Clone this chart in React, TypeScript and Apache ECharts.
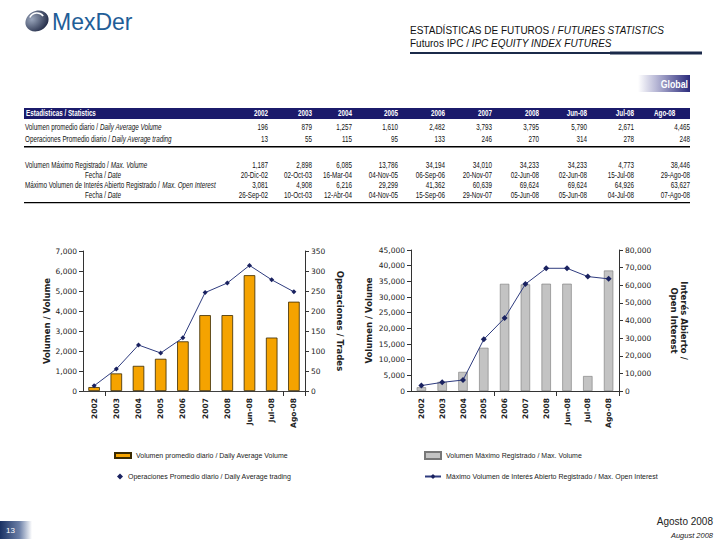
import React, { useEffect, useRef } from "react";
import * as echarts from "echarts";

const categories = ["2002", "2003", "2004", "2005", "2006", "2007", "2008", "Jun-08", "Jul-08", "Ago-08"];
const avgVolume = [196, 879, 1257, 1610, 2482, 3793, 3795, 5790, 2671, 4465];
const avgTrades = [13, 55, 115, 95, 133, 246, 270, 314, 278, 248];
const maxVolume = [1187, 2898, 6085, 13786, 34194, 34010, 34233, 34233, 4773, 38446];
const maxVolumeDate = ["20-Dic-02", "02-Oct-03", "16-Mar-04", "04-Nov-05", "06-Sep-06", "20-Nov-07", "02-Jun-08", "02-Jun-08", "15-Jul-08", "29-Ago-08"];
const maxOpenInterest = [3081, 4908, 6216, 29299, 41362, 60639, 69624, 69624, 64926, 63627];
const maxOpenInterestDate = ["26-Sep-02", "10-Oct-03", "12-Abr-04", "04-Nov-05", "15-Sep-06", "29-Nov-07", "05-Jun-08", "05-Jun-08", "04-Jul-08", "07-Ago-08"];

const S1 = "Volumen promedio diario / Daily Average Volume";
const S2 = "Operaciones Promedio diario / Daily Average trading";
const S3 = "Volumen Máximo Registrado / Max. Volume";
const S4 = "Máximo Volumen de Interés Abierto Registrado / Max. Open Interest";

const VERD = '"DejaVu Sans", Verdana, sans-serif';
const ARIAL = '"Liberation Sans", Arial, sans-serif';
const SX = 0.7;

const fmt = (v: number) => v.toLocaleString("en-US");

const colRight = [268, 312, 352, 398, 445, 492, 539, 587, 634, 690];

function buildTable(): any[] {
  const els: any[] = [];
  els.push({ type: "rect", shape: { x: 24, y: 108, width: 666, height: 11 }, style: { fill: "#1B1B6B" } });
  els.push({ type: "text", x: 26, y: 113.5, scaleX: SX, style: { text: "Estadísticas / Statistics", fill: "#fff", font: `bold 9px ${ARIAL}`, verticalAlign: "middle" } });
  categories.forEach((c, i) => {
    els.push({ type: "text", x: i === 9 ? 654 : colRight[i], y: 113.5, scaleX: SX, style: { text: c, fill: "#fff", font: `bold 9px ${ARIAL}`, textAlign: i === 9 ? "left" : "right", verticalAlign: "middle" } });
  });
  const rich = {
    a: { fontFamily: ARIAL, fontSize: 9, fill: "#111", fontStyle: "normal" },
    b: { fontFamily: ARIAL, fontSize: 9, fill: "#111", fontStyle: "italic" },
  };
  const rows: { a: string; b: string; y: number; vals: string[]; center?: boolean }[] = [
    { a: "Volumen promedio diario / ", b: "Daily Average Volume", y: 127, vals: avgVolume.map(fmt) },
    { a: "Operaciones Promedio diario / ", b: "Daily Average trading", y: 139, vals: avgTrades.map(fmt) },
    { a: "Volumen Máximo Registrado / ", b: "Max. Volume", y: 165, vals: maxVolume.map(fmt) },
    { a: "Fecha / ", b: "Date", y: 175, vals: maxVolumeDate, center: true },
    { a: "Máximo Volumen de Interés Abierto Registrado / ", b: "Max. Open Interest", y: 185, vals: maxOpenInterest.map(fmt) },
    { a: "Fecha / ", b: "Date", y: 195, vals: maxOpenInterestDate, center: true },
  ];
  rows.forEach((r) => {
    els.push({
      type: "text",
      x: r.center ? 103 : 25,
      y: r.y,
      scaleX: SX,
      style: { text: `{a|${r.a}}{b|${r.b}}`, rich, textAlign: r.center ? "center" : "left", verticalAlign: "middle" },
    });
    r.vals.forEach((v, i) => {
      els.push({ type: "text", x: colRight[i], y: r.y, scaleX: SX, style: { text: v, fill: "#111", font: `9px ${ARIAL}`, textAlign: "right", verticalAlign: "middle" } });
    });
  });
  els.push({ type: "rect", shape: { x: 24, y: 146, width: 666, height: 1.6 }, style: { fill: "#000" } });
  els.push({ type: "rect", shape: { x: 24, y: 202, width: 666, height: 1.2 }, style: { fill: "#000" } });
  return els;
}

export default function App() {
  const ref = useRef<HTMLDivElement>(null);
  useEffect(() => {
    if (!ref.current) return;
    const chart = echarts.init(ref.current, null, { renderer: "svg" });
    const axisLabel = { fontFamily: VERD, fontSize: 7.5, color: "#222", formatter: (v: number) => fmt(v), margin: 6 };
    const nameStyle = { fontFamily: VERD, fontSize: 8.5, fontWeight: "bold" as const, color: "#222" };
    const axisLine = { show: true, lineStyle: { color: "#333", width: 1 } };
    const axisTick = { show: true, length: 4, lineStyle: { color: "#333" } };
    const catLabel = { rotate: 90, fontFamily: VERD, fontWeight: "bold" as const, fontSize: 7.5, color: "#222", margin: 7 };
    const legendText = { fontFamily: ARIAL, fontSize: 7, color: "#222" };

    const option: any = {
      animation: false,
      backgroundColor: "#fff",
      grid: [
        { left: 83, top: 251, width: 222, height: 140 },
        { left: 411, top: 250, width: 208, height: 141 },
      ],
      xAxis: [
        { type: "category", gridIndex: 0, data: categories, axisLine, axisTick: { show: true, length: 5, interval: (i: number) => i === 1 || i === 9, lineStyle: { color: "#333" } }, axisLabel: catLabel },
        { type: "category", gridIndex: 1, data: categories, axisLine, axisTick: { show: true, length: 5, interval: (i: number) => i === 4 || i === 7, lineStyle: { color: "#333" } }, axisLabel: catLabel },
        { type: "category", gridIndex: 0, position: "top", data: categories, axisLine: { show: true, lineStyle: { color: "#444", width: 0.8 } }, axisTick: { show: false }, axisLabel: { show: false } },
      ],
      yAxis: [
        { type: "value", gridIndex: 0, position: "left", min: 0, max: 7000, interval: 1000, name: "Volumen / Volume", nameLocation: "middle", nameRotate: 90, nameGap: 30, nameTextStyle: nameStyle, axisLine, axisTick, axisLabel, splitLine: { show: false } },
        { type: "value", gridIndex: 0, position: "right", min: 0, max: 350, interval: 50, name: "Operaciones / Trades", nameLocation: "middle", nameRotate: -90, nameGap: 30, nameTextStyle: nameStyle, axisLine, axisTick, axisLabel, splitLine: { show: false } },
        { type: "value", gridIndex: 1, position: "left", min: 0, max: 45000, interval: 5000, name: "Volumen / Volume", nameLocation: "middle", nameRotate: 90, nameGap: 38, nameTextStyle: nameStyle, axisLine, axisTick, axisLabel, splitLine: { show: false } },
        { type: "value", gridIndex: 1, position: "right", min: 0, max: 80000, interval: 10000, name: "Interés Abierto /\nOpen Interest", nameLocation: "middle", nameRotate: -90, nameGap: 50, nameTextStyle: { ...nameStyle, lineHeight: 10 }, axisLine, axisTick, axisLabel, splitLine: { show: false } },
      ],
      legend: [
        { data: [{ name: S1, icon: "rect" }], left: 114, top: 452, itemWidth: 16, itemHeight: 5, padding: 0, selectedMode: false, textStyle: legendText },
        { data: [{ name: S2, icon: "diamond" }], left: 117, top: 473, itemWidth: 6, itemHeight: 6, padding: 0, selectedMode: false, textStyle: legendText },
        { data: [{ name: S3, icon: "rect" }], left: 424, top: 451, itemWidth: 16, itemHeight: 7, padding: 0, selectedMode: false, textStyle: legendText },
        { data: [{ name: S4 }], left: 424, top: 473, itemWidth: 16, itemHeight: 6, padding: 0, selectedMode: false, textStyle: legendText },
      ],
      series: [
        { name: S1, type: "bar", xAxisIndex: 0, yAxisIndex: 0, data: avgVolume, barWidth: "52%", itemStyle: { color: "#F5A300", borderColor: "#3a2a00", borderWidth: 0.8 } },
        { name: S2, type: "line", xAxisIndex: 0, yAxisIndex: 1, data: avgTrades, symbol: "diamond", symbolSize: 5, lineStyle: { color: "#2E3B7E", width: 1 }, itemStyle: { color: "#1A2260" } },
        { name: S3, type: "bar", xAxisIndex: 1, yAxisIndex: 2, data: maxVolume, barWidth: "45%", itemStyle: { color: "#C3C3C3", borderColor: "#777", borderWidth: 0.6 } },
        { name: S4, type: "line", xAxisIndex: 1, yAxisIndex: 3, data: maxOpenInterest, symbol: "diamond", symbolSize: 6, lineStyle: { color: "#2E3B7E", width: 1 }, itemStyle: { color: "#1A2260" } },
      ],
      graphic: [
        { type: "ellipse", x: 37, y: 21, rotation: 0.5, shape: { cx: 0, cy: 0, rx: 12, ry: 10 }, style: { fill: { type: "radial", x: 0.35, y: 0.3, r: 0.8, colorStops: [{ offset: 0, color: "#9AA6BC" }, { offset: 1, color: "#1B2440" }] } } },
        { type: "arc", x: 37, y: 21, shape: { cx: 0, cy: 0, r: 8, startAngle: 3.6, endAngle: 5.6 }, style: { stroke: "#fff", lineWidth: 1.5, fill: "none" } },
        { type: "text", x: 52, y: 22, style: { text: "MexDer", font: `23px ${ARIAL}`, fill: "#1F5E98", verticalAlign: "middle" } },
        { type: "text", x: 410, y: 30, style: { text: "{a|ESTADÍSTICAS DE FUTUROS / }{b|FUTURES STATISTICS}", verticalAlign: "middle", rich: { a: { fontFamily: ARIAL, fontSize: 10, fill: "#111" }, b: { fontFamily: ARIAL, fontSize: 10, fill: "#111", fontStyle: "italic" } } } },
        { type: "text", x: 410, y: 43, style: { text: "{a|Futuros IPC / }{b|IPC EQUITY INDEX FUTURES}", verticalAlign: "middle", rich: { a: { fontFamily: ARIAL, fontSize: 10, fill: "#111" }, b: { fontFamily: ARIAL, fontSize: 10, fill: "#111", fontStyle: "italic" } } } },
        { type: "rect", shape: { x: 410, y: 52, width: 200, height: 2 }, style: { fill: "#1B2A4A" } },
        { type: "rect", shape: { x: 610, y: 51.5, width: 92, height: 3 }, style: { fill: "#1B2A4A" } },
        { type: "rect", shape: { x: 638, y: 75, width: 52, height: 17 }, style: { fill: { type: "linear", x: 0, y: 0, x2: 1, y2: 0, colorStops: [{ offset: 0, color: "#ffffff" }, { offset: 0.35, color: "#B8B8D6" }, { offset: 1, color: "#2B2B7C" }] } } },
        { type: "text", x: 688, y: 84, scaleX: 0.8, style: { text: "Global", font: `bold 11px ${ARIAL}`, fill: "#fff", textAlign: "right", verticalAlign: "middle" } },
        ...buildTable(),
        { type: "rect", shape: { x: 0, y: 521, width: 32, height: 18 }, style: { fill: { type: "linear", x: 0, y: 0, x2: 1, y2: 0, colorStops: [{ offset: 0, color: "#1A3264" }, { offset: 0.6, color: "#6A7EA6" }, { offset: 1, color: "#ffffff" }] } } },
        { type: "text", x: 6, y: 530, style: { text: "13", font: `8px ${ARIAL}`, fill: "#fff", verticalAlign: "middle" } },
        { type: "text", x: 713, y: 521, style: { text: "Agosto 2008", font: `10px ${ARIAL}`, fill: "#222", textAlign: "right", verticalAlign: "middle" } },
        { type: "text", x: 713, y: 535, style: { text: "August 2008", font: `italic 7.5px ${ARIAL}`, fill: "#222", textAlign: "right", verticalAlign: "middle" } },
      ],
    };
    chart.setOption(option);
    return () => chart.dispose();
  }, []);
  return <div ref={ref} style={{ position: "fixed", left: 0, top: 0, width: 720, height: 540, background: "#fff" }} />;
}
